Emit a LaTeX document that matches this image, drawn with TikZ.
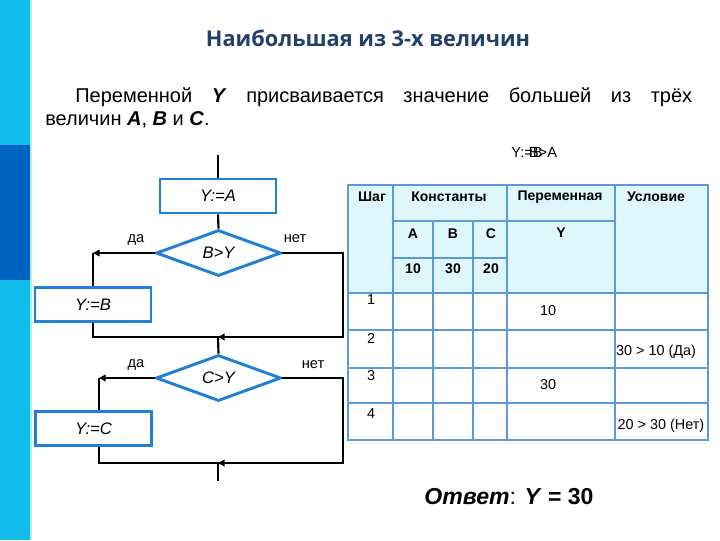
\documentclass[tikz,border=0pt]{standalone}
\usepackage{fontspec}
\setmainfont{Liberation Sans}
\newfontfamily\titlefont{Open Sans}
\usetikzlibrary{shapes.geometric,arrows.meta}
\definecolor{barlight}{HTML}{12BDEC}
\definecolor{bardark}{HTML}{0062C0}
\definecolor{titleblue}{HTML}{243F6A}
\definecolor{fcblue}{HTML}{2080D8}
\definecolor{tblue}{HTML}{5A9AD6}
\definecolor{hdr}{HTML}{E0F6FD}
\tikzset{
  fcbox/.style={draw=fcblue, line width=2.2pt, rectangle, minimum width=87pt, minimum height=25.5pt, inner sep=0pt, font=\itshape\fontsize{12.5}{14}\selectfont},
  fcdia/.style={draw=fcblue, line width=2.2pt, diamond, aspect=2.7, minimum width=93.75pt, minimum height=34.5pt, inner sep=0pt, font=\itshape\fontsize{12.5}{14}\selectfont},
  flow/.style={draw=black, line width=1.6pt},
  flowarr/.style={flow, -{Triangle[length=5pt,width=5pt]}},
  lbl/.style={font=\fontsize{11}{13}\selectfont, inner sep=0pt},
  tline/.style={draw=tblue, line width=1.3pt},
  thead/.style={font=\bfseries\fontsize{10.5}{12}\selectfont, inner sep=0pt},
  tcell/.style={font=\fontsize{10.8}{12}\selectfont, inner sep=0pt}
}
\begin{document}
\begin{tikzpicture}[x=0.75pt,y=-0.75pt]
\useasboundingbox (0,0) rectangle (720,540);
\fill[white] (0,0) rectangle (720,540);
% left bar
\fill[barlight] (0,0) rectangle (30,145);
\fill[bardark] (0,145) rectangle (30,280);
\fill[barlight] (0,280) rectangle (30,540);
\fill[barlight!30] (30,0) rectangle (32,540);
% title
\node[font=\titlefont\bfseries\fontsize{16.3}{19}\selectfont, text=titleblue] (title) at (368,38) {Наибольшая из 3-х величин};
% paragraph
\node[anchor=base west, text width=485.25pt, inner sep=0pt, align=justify, font=\fontsize{15}{17.25}\selectfont] (para) at (45,102) {\hspace*{22.5pt}Переменной \textbf{\textit{Y}} присваивается значение большей из трёх\linebreak величин \textbf{\textit{A}}, \textbf{\textit{B}} и \textbf{\textit{C}}.};
% overlapping leftover text
\node[lbl] (ov1) at (527,152) {Y:=B};
\node[lbl] (ov2) at (543,152) {B>A};
% flowchart
\node[fcbox] (ya) at (218,196) {Y:=A};
\node[fcdia] (bgy) at (218.5,253) {B>Y};
\node[fcbox] (yb) at (93,304.5) {Y:=B};
\node[fcdia] (cgy) at (218.5,378) {C>Y};
\node[fcbox] (yc) at (93.5,428.5) {Y:=C};
\coordinate (start) at (218,155);
\coordinate (bL) at (93,253);
\coordinate (bR) at (343,253);
\coordinate (bRd) at (343,337);
\coordinate (ybD) at (93,337);
\coordinate (j1) at (218,337);
\coordinate (cL) at (99,378);
\coordinate (cR) at (343,378);
\coordinate (cRd) at (343,463);
\coordinate (ycD) at (99,463);
\coordinate (j2) at (218,463);
\coordinate (fin) at (218,481);
\draw[flow] (start) -- (ya.north);
\draw[flow] (ya.south) -- (bgy.north);
\draw[flowarr] (bgy.west) -- (bL);
\draw[flow] (bL) -- (yb.north -| bL);
\draw[flow] (bgy.east) -- (bR) -- (bRd) -- (j1);
\draw[flowarr] (bRd) -- (j1);
\draw[flow] (yb.south -| ybD) -- (ybD) -- (j1);
\draw[flow] (j1) -- (cgy.north);
\draw[flowarr] (cgy.west) -- (cL);
\draw[flow] (cL) -- (yc.north -| cL);
\draw[flow] (cgy.east) -- (cR) -- (cRd) -- (j2);
\draw[flowarr] (cRd) -- (j2);
\draw[flow] (yc.south -| ycD) -- (ycD) -- (j2);
\draw[flow] (j2) -- (fin);
\node[lbl] (da1) at (136,240) {да};
\node[lbl] (net1) at (295,239) {нет};
\node[lbl] (da2) at (136,365) {да};
\node[lbl] (net2) at (313,365) {нет};
% table
\fill[hdr] (348,185) rectangle (708,293);
\draw[tline] (393,185) -- (393,440);
\draw[tline] (433,221) -- (433,440);
\draw[tline] (473,221) -- (473,440);
\draw[tline] (507,185) -- (507,440);
\draw[tline] (615,185) -- (615,440);
\draw[tline] (393,221) -- (615,221);
\draw[tline] (393,258) -- (507,258);
\draw[tline] (348,293) -- (708,293);
\draw[tline] (348,330) -- (708,330);
\draw[tline] (348,368) -- (708,368);
\draw[tline] (348,403) -- (708,403);
\draw[tline, line width=2.2pt] (348,185) rectangle (708,440);
\node[thead] (h1) at (372,197) {Шаг};
\node[thead] (h2) at (449,197) {Константы};
\node[thead] (h3) at (560,197) {Переменная};
\node[thead] (h4) at (656,197) {Условие};
\node[thead] (hA) at (413,234) {A};
\node[thead] (hB) at (453,234) {B};
\node[thead] (hC) at (491,234) {C};
\node[thead] (hY) at (561,233) {Y};
\node[thead] (v1) at (413,269) {10};
\node[thead] (v2) at (453,269) {30};
\node[thead] (v3) at (491,269) {20};
\node[tcell] (r1) at (371,300) {1};
\node[tcell] (r2) at (371,338) {2};
\node[tcell] (r3) at (371,376) {3};
\node[tcell] (r4) at (371,414) {4};
\node[tcell] (y1) at (548,311) {10};
\node[tcell] (c2) at (656,352) {30 > 10 (Да)};
\node[tcell] (y3) at (548,385) {30};
\node[tcell] (c4) at (661,426) {20 > 30 (Нет)};
% answer
\node[font=\fontsize{17.3}{19}\selectfont, inner sep=0pt] (ans) at (509,497) {\textbf{\textit{Ответ}}: \textbf{\textit{Y}} \textbf{= 30}};
\end{tikzpicture}
\end{document}
